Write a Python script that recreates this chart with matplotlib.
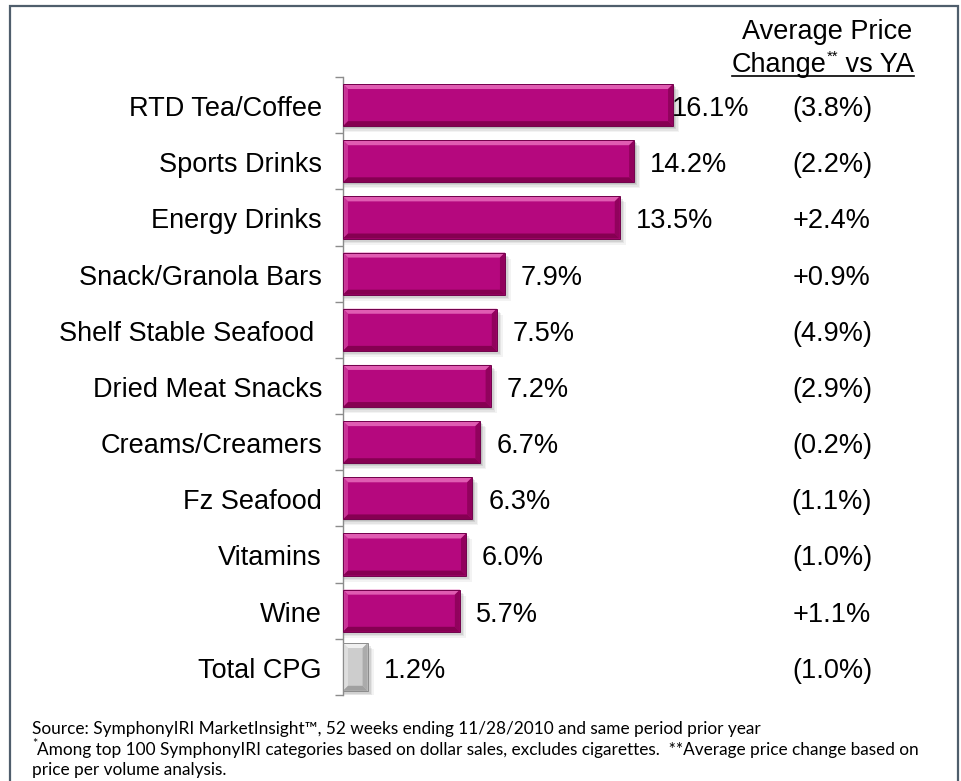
import matplotlib
matplotlib.use("Agg")
import matplotlib.pyplot as plt
from matplotlib.patches import Polygon, Rectangle
from matplotlib.lines import Line2D

categorias = ["RTD Tea/Coffee", "Sports Drinks", "Energy Drinks", "Snack/Granola Bars",
              "Shelf Stable Seafood ", "Dried Meat Snacks", "Creams/Creamers", "Fz Seafood",
              "Vitamins", "Wine", "Total CPG"]
crecimiento = [16.1, 14.2, 13.5, 7.9, 7.5, 7.2, 6.7, 6.3, 6.0, 5.7, 1.2]
cambio_precio = ["(3.8%)", "(2.2%)", "+2.4%", "+0.9%", "(4.9%)", "(2.9%)",
                 "(0.2%)", "(1.1%)", "(1.0%)", "+1.1%", "(1.0%)"]

FUENTE = ["Liberation Sans", "DejaVu Sans"]
FUENTE_NOTA = ["Lato", "DejaVu Sans"]
TAM = 19.5
TAM_NOTA = 12.4

plt.rcParams["font.family"] = FUENTE

W, H = 962, 781
fig = plt.figure(figsize=(W / 100, H / 100), dpi=100)

# eje: 20.5 px por punto porcentual, filas de ~56 px
x0, y_top, y_bot = 343, 77, 695
xmax = 17
ax = fig.add_axes([x0 / W, 1 - y_bot / H, 20.5 * xmax / W, (y_bot - y_top) / H])
ax.set_xlim(0, xmax)
ax.set_ylim(len(categorias) - 0.5, -0.5)

px_x = 1 / 20.5                     # unidades de datos por pixel (x)
px_y = len(categorias) / (y_bot - y_top)


def barra_biselada(ax, y, valor, alto, base, claro, oscuro, borde):
    x1, x2 = 0, valor
    ya, yb = y - alto / 2, y + alto / 2
    bx, by = 5 * px_x, 5 * px_y
    bx = min(bx, valor / 3)
    # sombra difusa
    for k, a in [(6, 0.07), (4.5, 0.10), (3, 0.14), (1.5, 0.18)]:
        ax.add_patch(Rectangle((x1 + 1 * px_x, ya + k * px_y), valor + (k - 1) * px_x, alto,
                               facecolor="#606060", alpha=a, lw=0, zorder=1))
    ax.add_patch(Rectangle((x1, ya), valor, alto, facecolor=base, lw=0, zorder=2))
    # bisel superior e izquierdo (claro), inferior y derecho (oscuro)
    ax.add_patch(Polygon([(x1, ya), (x2, ya), (x2 - bx, ya + by), (x1 + bx, ya + by)],
                         closed=True, facecolor=claro, lw=0, zorder=3))
    ax.add_patch(Polygon([(x1, ya), (x1 + bx, ya + by), (x1 + bx, yb - by), (x1, yb)],
                         closed=True, facecolor=claro, alpha=0.5, lw=0, zorder=3))
    ax.add_patch(Polygon([(x1, yb), (x2, yb), (x2 - bx, yb - by), (x1 + bx, yb - by)],
                         closed=True, facecolor=oscuro, lw=0, zorder=3))
    ax.add_patch(Polygon([(x2, ya), (x2, yb), (x2 - bx, yb - by), (x2 - bx, ya + by)],
                         closed=True, facecolor=oscuro, alpha=0.75, lw=0, zorder=3))
    ax.add_patch(Rectangle((x1, ya), valor, alto, facecolor="none", edgecolor=borde,
                           lw=0.7, zorder=4))


for i, (cat, v, p) in enumerate(zip(categorias, crecimiento, cambio_precio)):
    if cat == "Total CPG":
        barra_biselada(ax, i, v, 0.85, "#cdcdcd", "#f0f0f0", "#a0a0a0", "#8c8c8c")
    else:
        barra_biselada(ax, i, v, 0.75, "#b5087e", "#e05cb2", "#860052", "#72004b")
    ty = i + 0.07
    ax.text(min(v + 0.78, 16.05), ty, f"{v:.1f}%", ha="left", va="center",
            fontsize=TAM, zorder=5)
    ax.text(-21 * px_x, ty, cat, ha="right", va="center", fontsize=TAM, clip_on=False)
    ax.text((832 - x0) * px_x, ty, p, ha="center", va="center", fontsize=TAM, clip_on=False)

for lado in ["top", "right", "bottom"]:
    ax.spines[lado].set_visible(False)
ax.spines["left"].set_color("#8c8c8c")
ax.spines["left"].set_linewidth(1.0)
ax.set_xticks([])
ax.set_yticks([i - 0.5 for i in range(len(categorias) + 1)])
ax.set_yticklabels([])
ax.tick_params(axis="y", direction="out", length=6, color="#8c8c8c", width=1.0)

# encabezado de la columna de precios
fig.text(827 / W, 1 - 32 / H, "Average Price", ha="center", va="center", fontsize=TAM)
renderer = fig.canvas.get_renderer()
y_base = 1 - 72 / H
partes = [fig.text(0, y_base, "Change", ha="left", va="baseline", fontsize=TAM),
          fig.text(0, y_base + 11 / H, "**", ha="left", va="baseline", fontsize=TAM * 0.55),
          fig.text(0, y_base, " vs YA", ha="left", va="baseline", fontsize=TAM)]
anchos = [t.get_window_extent(renderer).width for t in partes]
x_ini = 823 - sum(anchos) / 2
for t, a in zip(partes, anchos):
    t.set_x(x_ini / W)
    x_ini += a
fig.add_artist(Line2D([(823 - sum(anchos) / 2) / W, x_ini / W], [1 - 76 / H, 1 - 76 / H],
                      color="black", lw=1.2))

# notas al pie
fig.text(32 / W, 1 - 729 / H,
         "Source: SymphonyIRI MarketInsight™, 52 weeks ending 11/28/2010 and same period prior year",
         ha="left", va="center", fontsize=TAM_NOTA, family=FUENTE_NOTA)
fig.text(32 / W, 1 - 744 / H, "*", ha="left", va="center", fontsize=9, family=FUENTE_NOTA)
fig.text(37 / W, 1 - 750 / H,
         "Among top 100 SymphonyIRI categories based on dollar sales, excludes cigarettes.  "
         "**Average price change based on",
         ha="left", va="center", fontsize=TAM_NOTA, family=FUENTE_NOTA)
fig.text(32 / W, 1 - 770 / H, "price per volume analysis.", ha="left", va="center",
         fontsize=TAM_NOTA, family=FUENTE_NOTA)

# marco
fig.add_artist(Rectangle((10 / W, -0.05), 948 / W, 1 - 6 / H + 0.05, transform=fig.transFigure,
                         facecolor="none", edgecolor="#4f5e6c", lw=1.6, clip_on=False))

fig.savefig("out.png", dpi=100)
